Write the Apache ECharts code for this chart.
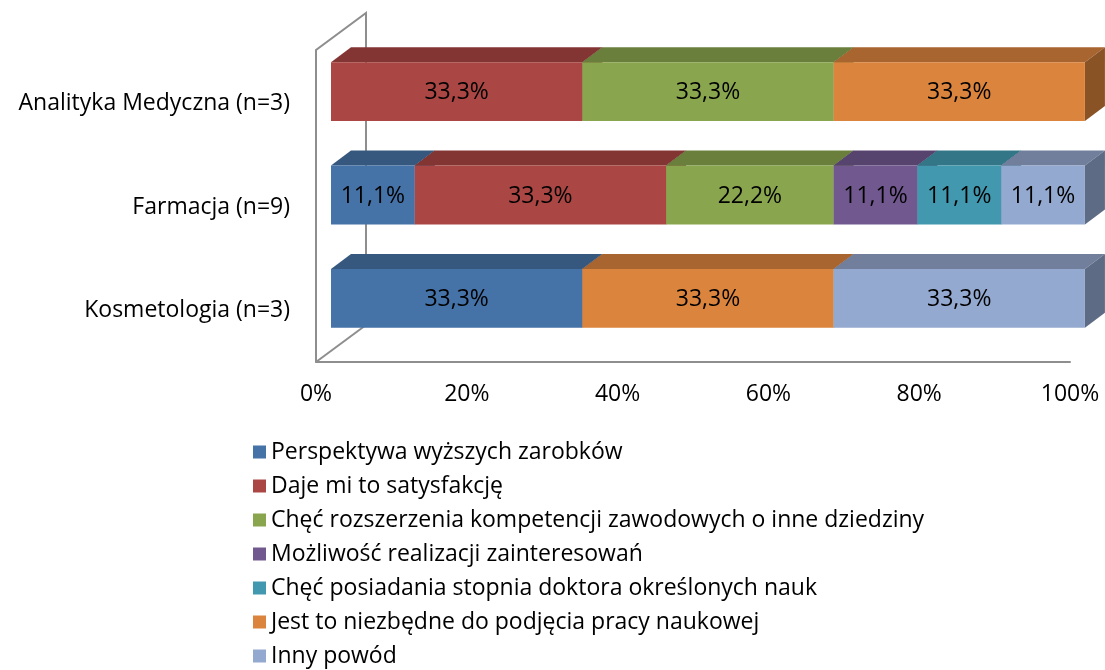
<!DOCTYPE html>
<html>
<head>
<meta charset="utf-8">
<script src="https://cdn.jsdelivr.net/npm/echarts@6/dist/echarts.min.js"></script>
<style>html,body{margin:0;padding:0;background:#fff;}#c{width:1105px;height:670px;}</style>
</head>
<body>
<div id="c"></div>
<script>
// Categories (bottom to top)
const categories = ['Kosmetologia (n=3)', 'Farmacja (n=9)', 'Analityka Medyczna (n=3)'];
const xTicks = [0, 20, 40, 60, 80, 100];

// Series values (%) in category order [Kosmetologia, Farmacja, Analityka Medyczna]
const perspektywa = [33.33, 11.11, 0];
const satysfakcja = [0, 33.33, 33.33];
const rozszerzenie = [0, 22.22, 33.33];
const zainteresowania = [0, 11.11, 0];
const doktorat = [0, 11.11, 0];
const pracaNaukowa = [33.33, 0, 33.33];
const innyPowod = [33.33, 11.11, 0];

const seriesNames = [
  'Perspektywa wyższych zarobków',
  'Daje mi to satysfakcję',
  'Chęć rozszerzenia kompetencji zawodowych o inne dziedziny',
  'Możliwość realizacji zainteresowań',
  'Chęć posiadania stopnia doktora określonych nauk',
  'Jest to niezbędne do podjęcia pracy naukowej',
  'Inny powód'
];
const seriesValues = [perspektywa, satysfakcja, rozszerzenie, zainteresowania, doktorat, pracaNaukowa, innyPowod];

const frontColors = ['#4572A7', '#AA4643', '#89A54E', '#71588F', '#4198AF', '#DB843D', '#93A9CF'];
const topColors   = ['#36587F', '#833533', '#6A7F3C', '#57446E', '#327687', '#A8652F', '#717F9C'];
const sideColors  = ['#2C486A', '#6C2B2A', '#566832', '#47385A', '#29606F', '#8A5325', '#5E6B84'];

const FONT = '"Open Sans", sans-serif';
const FS = 23;
const OX = 15, OY = -12, DX = 20, DY = -15;

function fmt(v) { return v.toFixed(1).replace('.', ',') + '%'; }

// build stacked data
const cum = categories.map(() => 0);
const barSeries = seriesValues.map((vals, si) => {
  const data = [];
  vals.forEach((v, ci) => {
    if (v > 0) {
      data.push([cum[ci], cum[ci] + v, ci, v]);
      cum[ci] += v;
    }
  });
  return {
    name: seriesNames[si],
    type: 'custom',
    coordinateSystem: 'cartesian2d',
    itemStyle: { color: frontColors[si] },
    encode: { x: [0, 1], y: 2 },
    z: 3,
    data: data,
    renderItem: function (params, api) {
      const s = api.value(0), e = api.value(1), c = api.value(2), v = api.value(3);
      const p0 = api.coord([s, c]);
      const p1 = api.coord([e, c]);
      const band = api.size([0, 1])[1];
      const h = band * 0.57;
      const x0 = p0[0] + OX, x1 = p1[0] + OX;
      const yc = p0[1] + OY;
      const top = yc - h / 2, bottom = yc + h / 2;
      return {
        type: 'group',
        children: [
          { type: 'polygon', shape: { points: [[x0, top], [x0 + DX, top + DY], [x1 + DX, top + DY], [x1, top]] },
            style: { fill: topColors[si] } },
          { type: 'polygon', shape: { points: [[x1, top], [x1 + DX, top + DY], [x1 + DX, bottom + DY], [x1, bottom]] },
            style: { fill: sideColors[si] } },
          { type: 'rect', shape: { x: x0, y: top, width: x1 - x0, height: h },
            style: { fill: frontColors[si] } },
          { type: 'text', style: { text: fmt(v), x: (x0 + x1) / 2, y: yc + 1, align: 'center', verticalAlign: 'middle',
            fill: '#000', fontSize: FS, fontFamily: FONT } }
        ]
      };
    }
  };
});

const wallSeries = {
  type: 'custom',
  coordinateSystem: 'cartesian2d',
  silent: true,
  z: 1,
  data: [[0, 0]],
  encode: { x: 0, y: 1 },
  renderItem: function (params, api) {
    const cs = params.coordSys;
    const gx = cs.x, gy = cs.y, gb = cs.y + cs.height;
    const bx = gx + 50, dy = -37;
    const st = { stroke: '#8E8E8E', lineWidth: 2, fill: null };
    return {
      type: 'group',
      children: [
        { type: 'polyline', shape: { points: [[gx, gy], [gx, gy - 2], [bx, gy - 2 + dy], [bx, gb + dy]] }, style: st },
        { type: 'line', shape: { x1: gx, y1: gb, x2: bx, y2: gb + dy }, style: st }
      ]
    };
  }
};

const chart = echarts.init(document.getElementById('c'), null, { renderer: 'canvas' });
chart.setOption({
  animation: false,
  backgroundColor: '#fff',
  grid: { left: 316, right: 35, top: 52, bottom: 308, containLabel: false },
  xAxis: {
    type: 'value', min: 0, max: 100, interval: 20,
    axisLine: { show: true, lineStyle: { color: '#8E8E8E', width: 2 } },
    axisTick: { show: false },
    splitLine: { show: false },
    axisLabel: { formatter: v => v + '%', color: '#000', fontSize: FS, fontFamily: FONT, margin: 21 }
  },
  yAxis: {
    type: 'category', data: categories,
    axisLine: { show: true, lineStyle: { color: '#8E8E8E', width: 2 } },
    axisTick: { show: false },
    axisLabel: { color: '#000', fontSize: FS, fontFamily: FONT, margin: 26 }
  },
  legend: {
    orient: 'vertical', left: 253, top: 440, padding: 0,
    itemWidth: 13, itemHeight: 13, itemGap: 10,
    icon: 'rect',
    data: seriesNames,
    textStyle: { color: '#000', fontSize: FS, fontFamily: FONT, lineHeight: 24 }
  },
  series: [wallSeries].concat(barSeries)
});
</script>
</body>
</html>
